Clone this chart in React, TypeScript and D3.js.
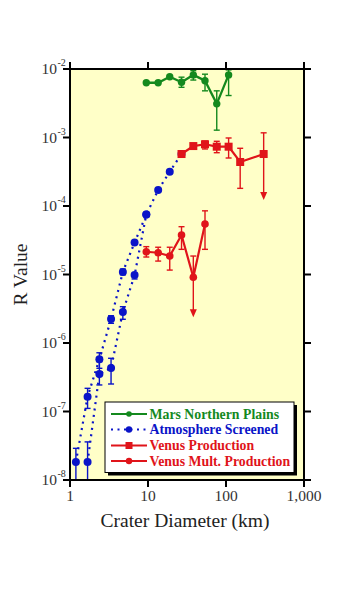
import React from "react";
import * as d3 from "d3";

// ---- Data ----
const xTickValues = [1, 10, 100, 1000];
const xTickLabels = ["1", "10", "100", "1,000"];
const yTickExponents = [-8, -7, -6, -5, -4, -3, -2];

const marsD = [9.51, 13.5, 19.0, 26.9, 38.1, 53.8, 76.1, 108];
const marsR = [6.3e-3, 6.3e-3, 7.7e-3, 6.4e-3, 8.2e-3, 6.75e-3, 3.1e-3, 8.2e-3];
const marsLo = [null, null, null, 5.4e-3, 6.9e-3, 4.8e-3, 1.28e-3, 4.1e-3];
const marsHi = [null, null, null, 7.6e-3, 9.45e-3, 8.4e-3, 4.8e-3, 9.7e-3];

const atmUpD = [1.19, 1.68, 2.38, 3.36, 4.76, 6.73, 9.51, 13.5, 19.0, 26.9];
const atmUpR = [1.83e-8, 1.64e-7, 5.8e-7, 2.24e-6, 1.09e-5, 2.93e-5, 7.5e-5, 1.71e-4, 3.17e-4, 5.74e-4];
const atmUpLo = [1e-8, 1.11e-7, 4.27e-7, 1.94e-6, 9.9e-6, null, null, null, null, null];
const atmUpHi = [2.9e-8, 2.18e-7, 7.2e-7, 2.5e-6, 1.2e-5, null, null, null, null, null];

const atmLoD = [1.68, 2.38, 3.36, 4.76, 6.73, 9.51];
const atmLoR = [1.83e-8, 3.53e-7, 4.32e-7, 2.84e-6, 9.8e-6, 7.5e-5];
const atmLoLo = [1e-8, 2.44e-7, 2.52e-7, 2.22e-6, 8.6e-6, null];
const atmLoHi = [3.6e-8, 5.33e-7, 5.98e-7, 3.39e-6, 1.04e-5, null];

const vpD = [26.9, 38.1, 53.8, 76.1, 108, 152, 304];
const vpR = [5.74e-4, 7.5e-4, 7.96e-4, 7.34e-4, 7.34e-4, 4.39e-4, 5.74e-4];
const vpLo = [null, null, 6.8e-4, 6.0e-4, 5.02e-4, 1.81e-4, 1.22e-4];
const vpHi = [null, null, 8.89e-4, 8.8e-4, 9.84e-4, 6.96e-4, 1.17e-3];
const vpArrow = [false, false, false, false, false, false, true];

const vmD = [9.51, 13.5, 19.0, 26.9, 38.1, 53.8];
const vmR = [2.15e-5, 2.08e-5, 1.86e-5, 3.77e-5, 9.1e-6, 5.46e-5];
const vmLo = [1.8e-5, 1.57e-5, 1.16e-5, 2.33e-5, 2.37e-6, 2.33e-5];
const vmHi = [2.55e-5, 2.5e-5, 2.5e-5, 4.99e-5, 1.86e-5, 8.5e-5];
const vmArrow = [false, false, false, false, true, false];

const legendLabels = [
  "Mars Northern Plains",
  "Atmosphere Screened",
  "Venus Production",
  "Venus Mult. Production",
];

// ---- Styles ----
const GREEN = "#14891e";
const BLUE = "#0a14c8";
const RED = "#e0141a";
const BG = "#ffffc8";
const FONT = "'Liberation Serif', 'Times New Roman', serif";

const L = 70, R = 304, T = 69, B = 480;

export default function App() {
  const x = d3.scaleLog().domain([1, 1000]).range([L, R]);
  const y = d3.scaleLog().domain([1e-8, 1e-2]).range([B, T]);
  const line = d3
    .line<[number, number]>()
    .x((d) => x(d[0]))
    .y((d) => y(d[1]));
  const zip = (a: number[], b: number[]) => a.map((v, i) => [v, b[i]] as [number, number]);

  const errBars = (
    D: number[],
    lo: (number | null)[],
    hi: (number | null)[],
    color: string,
    key: string,
    arrow?: boolean[]
  ) =>
    D.map((d, i) => {
      if (lo[i] == null || hi[i] == null) return null;
      const cx = x(d);
      const y1 = y(hi[i] as number);
      const y2 = y(lo[i] as number);
      const isArrow = arrow && arrow[i];
      return (
        <g key={key + i} stroke={color} strokeWidth={1.4} fill={color}>
          <line x1={cx} x2={cx} y1={y1} y2={isArrow ? y2 - 7 : y2} />
          <line x1={cx - 3} x2={cx + 3} y1={y1} y2={y1} />
          {isArrow ? (
            <path d={`M${cx - 3.5},${y2 - 8}L${cx + 3.5},${y2 - 8}L${cx},${y2}Z`} stroke="none" />
          ) : (
            <line x1={cx - 3} x2={cx + 3} y1={y2} y2={y2} />
          )}
        </g>
      );
    });

  const circles = (D: number[], Rv: number[], color: string, r: number, key: string) =>
    D.map((d, i) => <circle key={key + i} cx={x(d)} cy={y(Rv[i])} r={r} fill={color} />);

  const squares = (D: number[], Rv: number[], color: string, s: number, key: string) =>
    D.map((d, i) => (
      <rect key={key + i} x={x(d) - s / 2} y={y(Rv[i]) - s / 2} width={s} height={s} fill={color} />
    ));

  const legendRows = [414, 429.5, 445.5, 461];
  const legendColors = [GREEN, BLUE, RED, RED];

  return (
    <svg
      width={350}
      height={615}
      style={{ position: "absolute", left: 0, top: 0, background: "#fff" }}
      fontFamily={FONT}
    >
      <rect x={L} y={T} width={R - L} height={B - T} fill={BG} />

      {/* series: atmosphere screened (dotted) */}
      <path d={line(zip(atmUpD, atmUpR)) || ""} fill="none" stroke={BLUE} strokeWidth={2.2} strokeDasharray="2,4.5" />
      <path d={line(zip(atmLoD, atmLoR)) || ""} fill="none" stroke={BLUE} strokeWidth={2.2} strokeDasharray="2,4.5" />
      {errBars(atmUpD, atmUpLo, atmUpHi, BLUE, "au")}
      {errBars(atmLoD, atmLoLo, atmLoHi, BLUE, "al")}
      {circles(atmUpD, atmUpR, BLUE, 4, "auc")}
      {circles(atmLoD, atmLoR, BLUE, 4, "alc")}

      {/* Mars */}
      <path d={line(zip(marsD, marsR)) || ""} fill="none" stroke={GREEN} strokeWidth={2.3} />
      {errBars(marsD, marsLo, marsHi, GREEN, "m")}
      {circles(marsD, marsR, GREEN, 3.7, "mc")}

      {/* Venus production */}
      <path d={line(zip(vpD, vpR)) || ""} fill="none" stroke={RED} strokeWidth={2.2} />
      {errBars(vpD, vpLo, vpHi, RED, "vp", vpArrow)}
      {squares(vpD, vpR, RED, 8, "vps")}

      {/* Venus mult production */}
      <path d={line(zip(vmD, vmR)) || ""} fill="none" stroke={RED} strokeWidth={2.2} />
      {errBars(vmD, vmLo, vmHi, RED, "vm", vmArrow)}
      {circles(vmD, vmR, RED, 3.8, "vmc")}

      {/* frame */}
      <rect x={L} y={T} width={R - L} height={B - T} fill="none" stroke="#000" strokeWidth={2} />

      {/* y ticks */}
      {yTickExponents.map((e) => {
        const yy = y(Math.pow(10, e));
        return (
          <g key={"yt" + e}>
            <line x1={L - 7} x2={L} y1={yy} y2={yy} stroke="#000" strokeWidth={2} />
            <line x1={R} x2={R + 7} y1={yy} y2={yy} stroke="#000" strokeWidth={2} />
            <text x={57} y={yy + 5} textAnchor="end" fontSize={15.5} fill="#333">
              10
            </text>
            <text x={57.5} y={yy - 3} textAnchor="start" fontSize={10} fill="#333">
              {"-" + Math.abs(e)}
            </text>
          </g>
        );
      })}

      {/* x ticks */}
      {xTickValues.map((v, i) => {
        const xx = x(v);
        return (
          <g key={"xt" + v}>
            <line x1={xx} x2={xx} y1={B} y2={B + 7} stroke="#000" strokeWidth={2} />
            <line x1={xx} x2={xx} y1={T - 7} y2={T} stroke="#000" strokeWidth={2} />
            <text x={xx} y={500.5} textAnchor="middle" fontSize={15.5} fill="#333">
              {xTickLabels[i]}
            </text>
          </g>
        );
      })}

      {/* axis titles */}
      <text x={(L + R) / 2 - 2} y={527} textAnchor="middle" fontSize={19.5} fill="#222">
        Crater Diameter (km)
      </text>
      <text
        transform={`translate(27,${(T + B) / 2}) rotate(-90)`}
        textAnchor="middle"
        fontSize={19.5}
        fill="#222"
      >
        R Value
      </text>

      {/* legend */}
      <rect x={108} y={405} width={189} height={70.5} fill="#000" />
      <rect x={105} y={402} width={189} height={70.5} fill="#fff" stroke="#000" strokeWidth={1} />
      {legendLabels.map((lab, i) => {
        const yy = legendRows[i];
        const c = legendColors[i];
        return (
          <g key={"lg" + i}>
            <line
              x1={111}
              x2={147}
              y1={yy}
              y2={yy}
              stroke={c}
              strokeWidth={2}
              strokeDasharray={i === 1 ? "2,4.5" : undefined}
            />
            {i === 2 ? (
              <rect x={125.5} y={yy - 3.5} width={7} height={7} fill={c} />
            ) : (
              <circle cx={129} cy={yy} r={i === 0 ? 2.8 : 3.2} fill={c} />
            )}
            <text x={149.5} y={yy + 4.5} fontSize={13.8} fontWeight="bold" fill={c}>
              {lab}
            </text>
          </g>
        );
      })}
    </svg>
  );
}
